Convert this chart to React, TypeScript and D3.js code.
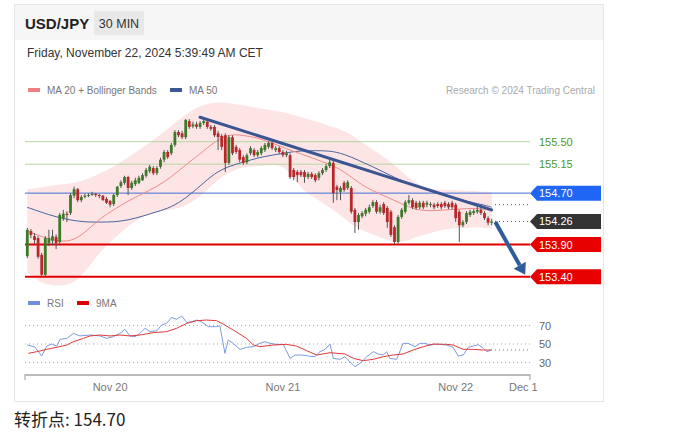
import React from 'react';
import * as d3 from 'd3';

// ---------- DATA (USD/JPY 30 min, Nov 19 12:30 -> Nov 22 05:00) ----------
const candleOpen = [
  153.72,154.11,154.03,154.00,153.74,153.43,153.92,153.96,154.02,153.94,
  154.31,154.38,154.39,154.66,154.76,154.59,154.64,154.66,154.67,154.69,
  154.67,154.66,154.61,154.58,154.53,154.67,154.81,154.86,154.95,154.78,
  154.84,154.86,154.90,154.97,155.04,155.09,155.01,155.11,155.22,155.34,
  155.32,155.45,155.65,155.63,155.57,155.82,155.74,155.77,155.73,155.79,
  155.81,155.73,155.73,155.63,155.59,155.60,155.17,155.57,155.42,155.37,
  155.26,155.18,155.32,155.37,155.29,155.32,155.37,155.42,155.48,155.37,
  155.40,155.34,155.29,155.29,155.06,155.03,155.03,155.03,154.95,155.00,
  154.98,154.94,155.01,155.06,155.12,155.17,154.80,154.72,154.86,154.78,
  154.78,154.44,154.25,154.34,154.38,154.41,154.50,154.56,154.41,154.53,
  154.47,154.41,154.17,153.94,154.33,154.41,154.55,154.59,154.55,154.48,
  154.55,154.52,154.52,154.52,154.53,154.53,154.55,154.53,154.55,154.52,
  154.41,154.20,154.25,154.36,154.39,154.41,154.44,154.39,154.31,154.24,
];
const candleClose = [
  154.13,154.05,153.97,153.71,153.43,154.00,154.00,154.03,153.92,154.36,
  154.38,154.36,154.67,154.76,154.59,154.64,154.66,154.67,154.69,154.67,
  154.66,154.59,154.55,154.52,154.67,154.80,154.87,154.95,154.78,154.86,
  154.90,154.94,154.98,155.06,155.11,155.01,155.09,155.22,155.34,155.26,
  155.45,155.65,155.60,155.57,155.84,155.73,155.77,155.73,155.79,155.82,
  155.73,155.70,155.60,155.57,155.42,155.17,155.57,155.32,155.34,155.22,
  155.17,155.29,155.40,155.29,155.34,155.40,155.45,155.48,155.40,155.40,
  155.34,155.29,155.32,154.95,154.95,154.98,154.98,154.95,155.00,154.95,
  154.90,155.01,155.06,155.12,155.18,154.70,154.75,154.78,154.75,154.87,
  154.41,154.25,154.36,154.39,154.44,154.48,154.56,154.41,154.48,154.39,
  154.25,154.05,153.94,154.33,154.44,154.56,154.59,154.48,154.47,154.55,
  154.48,154.55,154.53,154.48,154.50,154.48,154.50,154.48,154.48,154.31,
  154.20,154.25,154.39,154.41,154.42,154.44,154.39,154.31,154.24,154.26,
];
const candleHigh = [
  154.16,154.14,154.08,154.03,153.77,154.03,154.13,154.13,154.06,154.39,
  154.44,154.42,154.70,154.80,154.78,154.67,154.69,154.70,154.72,154.70,
  154.69,154.67,154.64,154.59,154.69,154.81,154.90,154.97,154.97,154.89,
  154.94,154.97,155.01,155.09,155.14,155.12,155.12,155.25,155.37,155.37,
  155.48,155.68,155.68,155.67,155.85,155.85,155.81,155.81,155.82,155.85,
  155.84,155.76,155.76,155.67,155.62,155.63,155.60,155.60,155.45,155.40,
  155.29,155.32,155.43,155.40,155.37,155.43,155.48,155.51,155.51,155.43,
  155.43,155.37,155.36,155.32,155.09,155.06,155.06,155.06,155.03,155.03,
  155.01,155.04,155.09,155.15,155.23,155.20,154.83,154.81,154.89,154.90,
  154.81,154.47,154.39,154.42,154.47,154.52,154.59,154.59,154.52,154.56,
  154.50,154.44,154.20,154.36,154.47,154.59,154.67,154.62,154.58,154.58,
  154.58,154.58,154.56,154.55,154.56,154.56,154.58,154.56,154.58,154.55,
  154.44,154.28,154.42,154.44,154.45,154.50,154.52,154.42,154.34,154.30,
];
const candleLow = [
  153.69,154.00,153.91,153.68,153.40,153.40,153.88,153.89,153.83,153.91,
  154.27,154.25,154.36,154.62,154.56,154.56,154.62,154.64,154.66,154.64,
  154.62,154.58,154.53,154.48,154.50,154.64,154.78,154.83,154.67,154.75,
  154.81,154.84,154.89,154.94,155.01,154.98,154.98,155.08,155.18,155.23,
  155.29,155.42,155.57,155.54,155.54,155.70,155.71,155.70,155.70,155.76,
  155.70,155.67,155.57,155.37,155.37,155.03,155.14,155.29,155.31,155.18,
  155.14,155.15,155.29,155.26,155.26,155.29,155.34,155.39,155.37,155.34,
  155.31,155.26,155.26,154.92,154.90,154.87,154.95,154.86,154.92,154.92,
  154.87,154.90,154.98,155.03,155.09,154.55,154.59,154.59,154.72,154.75,
  154.38,154.08,154.13,154.31,154.34,154.38,154.47,154.38,154.38,154.36,
  154.16,154.02,153.91,153.91,154.30,154.38,154.52,154.45,154.44,154.45,
  154.45,154.48,154.48,154.45,154.47,154.45,154.47,154.45,154.45,154.25,
  153.94,154.17,154.22,154.33,154.36,154.38,154.36,154.28,154.20,154.20,
];

// indicator samples (candle index -> value)
const indIdx = [0,4,8,12,16,20,24,28,32,36,40,44,48,52,56,60,64,68,72,76,80,84,88,92,96,100,104,108,112,116,120,124,128,129];
const ma20 = [154.11,154.02,153.96,153.94,154.08,154.30,154.44,154.58,154.69,154.80,154.95,155.14,155.31,155.50,155.62,155.60,155.56,155.48,155.39,155.31,155.23,155.15,155.04,154.86,154.73,154.64,154.53,154.44,154.42,154.44,154.45,154.47,154.44,154.42];
const ma50 = [154.48,154.40,154.33,154.28,154.25,154.25,154.25,154.28,154.34,154.41,154.48,154.62,154.81,155.01,155.12,155.18,155.25,155.29,155.33,155.36,155.36,155.36,155.31,155.21,155.11,155.00,154.89,154.81,154.73,154.66,154.60,154.55,154.50,154.48];
const bbUpper = [154.76,154.79,154.83,154.84,154.90,155.00,155.11,155.26,155.40,155.57,155.74,155.93,156.06,156.12,156.10,156.07,156.02,155.99,155.95,155.88,155.82,155.74,155.68,155.53,155.37,155.23,155.04,154.84,154.76,154.75,154.75,154.73,154.72,154.72];
const bbLower = [153.47,153.29,153.26,153.26,153.46,153.78,153.99,154.19,154.34,154.41,154.44,154.50,154.64,154.87,155.03,155.11,155.12,155.14,155.12,154.76,154.62,154.48,154.31,154.13,154.06,153.96,153.92,154.02,154.08,154.14,154.16,154.17,154.16,154.14];

const rsiIdx = [0,2,4,5.4,6.8,8.2,9.1,11,12.8,14.6,17.4,20.2,22,23.9,25.7,27.1,28.5,29.9,31.3,32.7,34.1,36,37.3,38.7,40.1,41.5,42.9,44.3,45.7,47,48.4,50.3,52.6,53.5,54.9,55.8,57.2,59.1,60.9,62.8,64.6,66,67.4,69.3,71.1,73,74.4,76.2,78.1,79.9,81.3,82.7,84.1,85,86.9,88.2,89.6,91,92.4,94.3,96.1,97.5,98.9,99.8,100.7,102.6,104.4,105.8,107.7,109.1,110.5,111.9,113.2,114.6,116.5,118.3,119.7,121.1,122.5,123.9,125.3,126.7,127.6,129];
const rsiVal = [48.9,47.1,37.0,47.8,50.0,47.8,55.0,56.1,61.5,58.7,59.7,58.7,56.1,57.9,61.5,65.9,58.7,57.9,61.5,67.0,63.3,64.4,70.5,72.3,78.8,76.7,80.3,73.1,74.1,75.9,74.1,68.7,68.7,69.5,39.9,54.3,50.7,44.2,46.4,47.1,50.7,52.5,50.7,49.6,49.6,34.5,38.1,38.1,37.0,36.3,41.7,44.2,50.0,34.5,33.4,36.3,30.9,25.5,29.1,36.3,41.7,39.2,38.1,41.7,34.5,33.4,50.7,50.7,47.1,50.7,50.7,48.9,49.6,49.6,48.9,46.4,37.0,38.1,46.4,47.8,49.3,45.3,41.7,43.5];
const rsiMaIdx = [0.3,2.6,5.4,8.2,11,12.8,15.6,17.4,20.2,23,25.7,28.5,31.3,35,38.7,41.5,44.3,47,49.8,52.6,54.4,57.2,60.9,62.8,64.6,68.3,72,74.8,77.6,80.4,84.1,88.2,90.6,93.3,96.1,98.9,101.7,104.4,107.2,110,112.8,116.5,118.3,121.1,123.9,126.7,129];
const rsiMaVal = [39.9,41.7,44.2,46.4,48.9,52.5,56.1,58.7,59.7,58.7,59.7,58.7,59.7,62.3,63.3,67.0,72.3,75.2,75.9,75.2,71.6,65.1,56.1,48.9,47.1,48.9,49.6,47.8,42.8,38.1,40.6,39.2,34.5,32.0,33.4,36.3,38.1,39.2,43.5,47.1,50.0,49.6,48.9,44.2,44.2,43.5,43.5];

const resistanceLevels = [155.50, 155.15];
const pivotLevel = 154.70;
const lastPrice = 154.26;
const supportLevels = [153.90, 153.40];
const trendIdx = [48, 129];
const trendVal = [155.88, 154.44];
const trendNow = 154.52;
const arrowIdx = [130, 138.3];
const arrowVal = [154.25, 153.43];
const rsiLevels = [70, 50, 30];
const dateTickIdx = [23, 71, 119, 137.8];
const dateTickLabels = ['Nov 20', 'Nov 21', 'Nov 22', 'Dec 1'];

const FONT = '"Liberation Sans", Arial, Helvetica, sans-serif';

export default function App() {
  const x = d3.scaleLinear().domain([0, 129]).range([27.3, 491.7]);
  const y = d3.scaleLinear().domain([153.40, 155.50]).range([276.7, 141.7]);
  const yr = d3.scaleLinear().domain([30, 70]).range([362.5, 325.5]);

  const bandData = indIdx.map((i, k) => ({ i, u: bbUpper[k], l: bbLower[k] }));
  const area = d3.area<any>().x(d => x(d.i)).y0(d => y(d.l)).y1(d => y(d.u)).curve(d3.curveBasis);
  const line = (vals: number[], idx: number[], curve: any) =>
    d3.line<number>().x((_, k) => x(idx[k])).y(v => y(v)).curve(curve)(vals) as string;
  const rline = (vals: number[], idx: number[]) =>
    d3.line<number>().x((_, k) => x(idx[k])).y(v => yr(v)).curve(d3.curveLinear)(vals) as string;

  const lineL = 25, lineR = 530;
  const labelBox = (p: number, fill: string, text: string) => {
    const cy = y(p);
    const pts = [[530, cy], [537, cy - 7.5], [601, cy - 7.5], [601, cy + 7.5], [537, cy + 7.5]];
    return (
      <g key={text}>
        <polygon points={pts.map(q => q.join(',')).join(' ')} fill={fill} />
        <text x={539} y={cy + 4} fill="#fff" fontSize={11} fontFamily={FONT}>{text}</text>
      </g>
    );
  };

  const a0x = x(arrowIdx[0]), a0y = y(arrowVal[0]);
  const a1x = x(arrowIdx[1]), a1y = y(arrowVal[1]);
  const ang = Math.atan2(a1y - a0y, a1x - a0x);
  const headLen = 11, headW = 7;
  const bx = a1x - headLen * Math.cos(ang), by = a1y - headLen * Math.sin(ang);
  const head = [
    [a1x, a1y],
    [bx + headW * Math.sin(ang), by - headW * Math.cos(ang)],
    [bx - headW * Math.sin(ang), by + headW * Math.cos(ang)],
  ];

  return (
    <svg width={682} height={436} style={{ position: 'absolute', left: 0, top: 0, display: 'block' }}>
      <rect x={0} y={0} width={682} height={436} fill="#fff" />
      {/* card */}
      <rect x={14.5} y={4.5} width={589} height={397} fill="#fff" stroke="#e6e6e6" />
      <rect x={15} y={5} width={588} height={35} fill="#f6f6f6" />
      <text x={25} y={29} fontSize={15} fontWeight="bold" fill="#222" fontFamily={FONT}>USD/JPY</text>
      <rect x={94} y={11} width={50} height={24} fill="#e8e8e8" rx={1} />
      <text x={119} y={28} fontSize={12.5} fill="#333" textAnchor="middle" fontFamily={FONT}>30 MIN</text>
      <text x={27} y={57} fontSize={12} fill="#333" fontFamily={FONT}>Friday, November 22, 2024 5:39:49 AM CET</text>

      {/* legend */}
      <rect x={28} y={88} width={12} height={4} fill="#f08080" />
      <text x={47} y={94} fontSize={10} fill="#777" fontFamily={FONT}>MA 20 + Bollinger Bands</text>
      <rect x={170} y={88} width={12} height={4} fill="#3b5794" />
      <text x={189} y={94} fontSize={10} fill="#777" fontFamily={FONT}>MA 50</text>
      <text x={595} y={94} fontSize={10} fill="#aaa" textAnchor="end" fontFamily={FONT}>Research © 2024 Trading Central</text>

      {/* bollinger band */}
      <path d={area(bandData) as string} fill="#fde5e5" />

      {/* levels */}
      {resistanceLevels.map(p => (
        <g key={p}>
          <line x1={lineL} x2={lineR} y1={y(p)} y2={y(p)} stroke="#b6d7a1" strokeWidth={1} />
          <text x={539} y={y(p) + 4} fontSize={11} fill="#4e9a1e" fontFamily={FONT}>{p.toFixed(2)}</text>
        </g>
      ))}
      <line x1={lineL} x2={lineR} y1={y(pivotLevel)} y2={y(pivotLevel)} stroke="#3d6fd2" strokeWidth={1} />
      {supportLevels.map(p => (
        <line key={p} x1={lineL} x2={lineR} y1={y(p)} y2={y(p)} stroke="#e00000" strokeWidth={2} />
      ))}

      {/* moving averages */}
      <path d={line(ma50, indIdx, d3.curveBasis)} fill="none" stroke="#4a64a0" strokeWidth={1} />
      <path d={line(ma20, indIdx, d3.curveBasis)} fill="none" stroke="#f08a8a" strokeWidth={1} />

      {/* candles */}
      {candleOpen.map((o, i) => {
        const c = candleClose[i];
        const up = c >= o;
        const col = up ? '#3a7a28' : '#b8282a';
        const top = y(Math.max(o, c)), bot = y(Math.min(o, c));
        return (
          <g key={i}>
            <line x1={x(i)} x2={x(i)} y1={y(candleHigh[i])} y2={y(candleLow[i])} stroke="#555" strokeWidth={1} />
            <rect x={x(i) - 1.4} y={top} width={2.8} height={Math.max(1, bot - top)} fill={col} />
          </g>
        );
      })}

      {/* dotted extensions */}
      <line x1={495} x2={lineR} y1={y(lastPrice)} y2={y(lastPrice)} stroke="#555" strokeDasharray="1,3" />
      <line x1={495} x2={lineR} y1={y(trendNow)} y2={y(trendNow)} stroke="#555" strokeDasharray="1,3" />

      {/* trend line and arrow */}
      <line x1={x(trendIdx[0])} y1={y(trendVal[0])} x2={x(trendIdx[1])} y2={y(trendVal[1])} stroke="#3a5592" strokeWidth={3} strokeLinecap="round" />
      <line x1={a0x} y1={a0y} x2={bx} y2={by} stroke="#2f5d9c" strokeWidth={4} />
      <polygon points={head.map(q => q.join(',')).join(' ')} fill="#2f5d9c" />

      {/* labels */}
      {labelBox(pivotLevel, '#1f66f5', pivotLevel.toFixed(2))}
      {labelBox(lastPrice, '#333333', lastPrice.toFixed(2))}
      {supportLevels.map(p => labelBox(p, '#e60000', p.toFixed(2)))}

      {/* RSI panel */}
      <rect x={28} y={301} width={12} height={4} fill="#6f8fde" />
      <text x={47} y={307} fontSize={10} fill="#777" fontFamily={FONT}>RSI</text>
      <rect x={77} y={301} width={12} height={4} fill="#e00000" />
      <text x={96} y={307} fontSize={10} fill="#777" fontFamily={FONT}>9MA</text>
      {rsiLevels.map(v => (
        <g key={v}>
          <line x1={lineL} x2={lineR} y1={yr(v)} y2={yr(v)} stroke="#aaa" strokeDasharray="1,3" />
          <text x={539} y={yr(v) + 4} fontSize={11} fill="#666" fontFamily={FONT}>{v}</text>
        </g>
      ))}
      <line x1={495} x2={lineR} y1={yr(rsiVal[rsiVal.length - 1])} y2={yr(rsiVal[rsiVal.length - 1])} stroke="#777" strokeDasharray="1,3" />
      <path d={rline(rsiVal, rsiIdx)} fill="none" stroke="#7d9ae0" strokeWidth={1} />
      <path d={rline(rsiMaVal, rsiMaIdx)} fill="none" stroke="#e03a3a" strokeWidth={1} />

      {/* time axis */}
      <line x1={25} x2={530} y1={375} y2={375} stroke="#bbb" strokeWidth={2} />
      <line x1={25} x2={25} y1={374} y2={380} stroke="#bbb" strokeWidth={1.5} />
      <line x1={530} x2={530} y1={374} y2={380} stroke="#bbb" strokeWidth={1.5} />
      {dateTickIdx.map((t, k) => (
        <text key={k} x={x(t)} y={391} fontSize={11} fill="#777" textAnchor="middle" fontFamily={FONT}>{dateTickLabels[k]}</text>
      ))}

      <text x={14} y={426} fontSize={17} fill="#222" fontFamily={'"Noto Sans CJK SC", "Liberation Sans", sans-serif'}>转折点: 154.70</text>
    </svg>
  );
}
